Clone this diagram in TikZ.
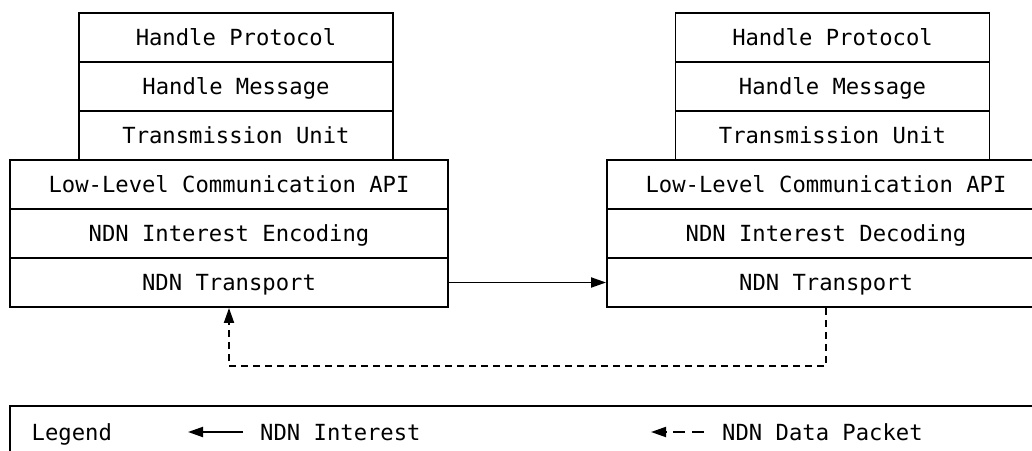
\documentclass[tikz,border=0pt]{standalone}
\usepackage{fontspec}
\newfontfamily\diagmono{DejaVu Sans Mono}
\usetikzlibrary{arrows.meta}
\tikzset{
  layer/.style={draw, line width=1.9pt, rectangle, minimum height=49pt, inner sep=0pt,
    text height=16.3pt, text depth=0pt, font=\diagmono\fontsize{22.2}{26}\selectfont},
  narrowlayer/.style={layer, minimum width=314pt},
  widelayer/.style={layer, minimum width=438pt},
  label/.style={inner sep=0pt, anchor=west, text height=16.3pt, text depth=0pt,
    font=\diagmono\fontsize{22.2}{26}\selectfont},
  tip/.style={-{Triangle[length=15pt,width=10pt]}},
  flow/.style={tip, line width=1.9pt},
  reply/.style={tip, line width=1.9pt, dash pattern=on 7pt off 5pt},
  replykey/.style={tip, line width=1.9pt, dash pattern=on 12pt off 7pt},
}
\begin{document}
\begin{tikzpicture}[x=1pt,y=-1pt]
\clip (0,0) rectangle (1032,450);
\fill[white] (0,0) rectangle (1032,450);
% left stack
\node[narrowlayer] (lhp) at (236,37.5) {Handle Protocol};
\node[narrowlayer] (lhm) at (236,86.5) {Handle Message};
\node[narrowlayer] (ltu) at (236,135.5) {Transmission Unit};
\node[widelayer] (lapi) at (229,184.5) {Low-Level Communication API};
\node[widelayer] (lenc) at (229,233.5) {NDN Interest Encoding};
\node[widelayer] (ltr) at (229,282.5) {NDN Transport};
% right stack
\node[narrowlayer] (rhp) at (832.5,37.5) {Handle Protocol};
\node[narrowlayer] (rhm) at (832.5,86.5) {Handle Message};
\node[narrowlayer] (rtu) at (832.5,135.5) {Transmission Unit};
\node[widelayer] (rapi) at (826,184.5) {Low-Level Communication API};
\node[widelayer] (rdec) at (826,233.5) {NDN Interest Decoding};
\node[widelayer] (rtr) at (826,282.5) {NDN Transport};
% connectors
\draw[flow] (ltr.east) -- (rtr.west);
\coordinate (dr) at (826,366);
\coordinate (dl) at (229,366);
\draw[reply] (rtr.south) -- (dr) -- (dl) -- (ltr.south);
% legend
\node[draw, line width=1.9pt, rectangle, minimum width=1035pt, minimum height=70pt, inner sep=0pt] (legend) at (527.5,441) {};
\node[label] (lgt) at (31.5,432) {Legend};
\node[label] (lint) at (260,432) {NDN Interest};
\node[label] (ldata) at (722,432) {NDN Data Packet};
\coordinate (ls1) at (243,432);
\coordinate (ls0) at (188,432);
\coordinate (ld1) at (704,432);
\coordinate (ld0) at (651,432);
\draw[flow] (ls1) -- (ls0);
\draw[replykey] (ld1) -- (ld0);
\end{tikzpicture}
\end{document}
